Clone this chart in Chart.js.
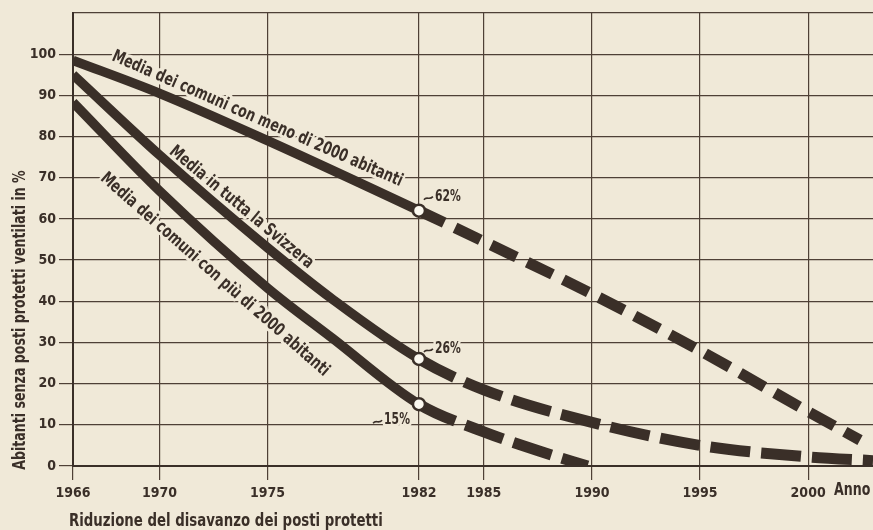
<!DOCTYPE html>
<html>
<head>
<meta charset="utf-8">
<script src="https://cdn.jsdelivr.net/npm/chart.js@4/dist/chart.umd.min.js"></script>
<style>
  html, body { margin: 0; padding: 0; background: #f0e9d8; overflow: hidden; }
  canvas { display: block; }
</style>
</head>
<body>
<canvas id="chart" width="873" height="530"></canvas>
<script>
// x axis ticks (years) and y axis range
const xTicks = [1966, 1970, 1975, 1982, 1985, 1990, 1995, 2000];
const yMax = 110;
const markYear = 1982; // last surveyed year, dashed afterwards

// Media dei comuni con meno di 2000 abitanti
const yearsMeno = [1966, 1970, 1975, 1982, 1985, 1990, 1995, 2000, 2002.4];
const valMeno   = [98.5, 90.5, 79, 62, 54.5, 41.8, 28, 13.2, 6.3];

// Media in tutta la Svizzera
const yearsSvizzera = [1966, 1970, 1975, 1978, 1982, 1985, 1990, 1995, 2000, 2003];
const valSvizzera   = [95, 75.5, 53, 40.5, 26, 18.5, 10.6, 5, 2.2, 1.3];

// Media dei comuni con più di 2000 abitanti
const yearsPiu = [1966, 1970, 1975, 1978, 1982, 1985, 1987.7, 1989.8];
const valPiu   = [88.3, 66.8, 43.2, 31, 15, 8.3, 3.4, 0];

const PAPER = '#f0e9d8';
const INK = '#3a2f28';
const GRID = '#4e4036';
const FONT = "'Liberation Sans Narrow', 'Arial Narrow', 'DejaVu Sans Condensed', sans-serif";
const SX = 0.8; // horizontal squeeze for the condensed lettering

function pts(xs, ys) {
  return xs.map((x, i) => ({ x, y: ys[i] }));
}

function lineDataset(xs, ys, dash) {
  return {
    data: pts(xs, ys),
    borderColor: INK,
    borderWidth: 9.5,
    cubicInterpolationMode: 'monotone',
    segment: {
      borderDash: c => c.p0.parsed.x >= markYear ? dash : undefined,
      borderWidth: c => c.p0.parsed.x >= markYear ? 11 : undefined
    },
    pointRadius: c => (c.raw && c.raw.x === markYear ? 6 : 0),
    pointHoverRadius: 0,
    pointBackgroundColor: '#fbf8ef',
    pointBorderColor: INK,
    pointBorderWidth: 2.5
  };
}

// value on a series at a given year (straight between readings)
function valueAt(xs, ys, yr) {
  for (let i = 0; i < xs.length - 1; i++) {
    if (yr >= xs[i] && yr <= xs[i + 1]) {
      const t = (yr - xs[i]) / (xs[i + 1] - xs[i]);
      return ys[i] + t * (ys[i + 1] - ys[i]);
    }
  }
  return ys[ys.length - 1];
}

const lineLabels = [
  { text: 'Media dei comuni con meno di 2000 abitanti', xs: yearsMeno, ys: valMeno, at: 1967.5, span: 13, off: 14 },
  { text: 'Media in tutta la Svizzera', xs: yearsSvizzera, ys: valSvizzera, at: 1970.2, span: 8, off: 7.5 },
  { text: 'Media dei comuni con più di 2000 abitanti', xs: yearsPiu, ys: valPiu, at: 1968.3, span: 10, off: -35 }
];

const pctLabels = [
  { xs: yearsMeno, ys: valMeno, dx: 16, dy: -14, side: 'right' },
  { xs: yearsSvizzera, ys: valSvizzera, dx: 16, dy: -10, side: 'right' },
  { xs: yearsPiu, ys: valPiu, dx: -9, dy: 16, side: 'left' }
];

function tilde(ctx, x, y) {
  ctx.beginPath();
  ctx.moveTo(x, y + 2);
  ctx.bezierCurveTo(x + 3, y - 2, x + 5, y + 3, x + 9, y - 1);
  ctx.lineWidth = 1.6;
  ctx.strokeStyle = INK;
  ctx.stroke();
}

// squeezed text, optionally rotated; halo = knock-out stroke only
function squeezed(ctx, s, x, y, angle, align, halo) {
  ctx.save();
  ctx.translate(x, y);
  if (angle) ctx.rotate(angle);
  ctx.scale(SX, 1);
  ctx.textAlign = align;
  if (halo) ctx.strokeText(s, 0, 0);
  else ctx.fillText(s, 0, 0);
  ctx.restore();
}

function drawLabels(chart, halo) {
  const { ctx, scales: { x, y } } = chart;
  const px = (xs, ys, yr) => ({ x: x.getPixelForValue(yr), y: y.getPixelForValue(valueAt(xs, ys, yr)) });

  ctx.save();
  ctx.fillStyle = INK;
  ctx.strokeStyle = PAPER;
  ctx.lineWidth = 6;
  ctx.lineJoin = 'round';
  ctx.textBaseline = 'alphabetic';

  ctx.font = 'bold 17.5px ' + FONT;
  lineLabels.forEach(l => {
    const p0 = px(l.xs, l.ys, l.at);
    const p1 = px(l.xs, l.ys, l.at + l.span);
    const a = Math.atan2(p1.y - p0.y, p1.x - p0.x);
    squeezed(ctx, l.text, p0.x + Math.sin(a) * l.off, p0.y - Math.cos(a) * l.off, a, 'left', halo);
  });

  ctx.font = 'bold 15px ' + FONT;
  ctx.textBaseline = 'middle';
  pctLabels.forEach(l => {
    const v = valueAt(l.xs, l.ys, markYear);
    const txt = Math.round(v) + '%';
    const mx = x.getPixelForValue(markYear);
    const my = y.getPixelForValue(v);
    const tx = mx + l.dx, ty = my + l.dy;
    const w = ctx.measureText(txt).width * SX;
    const left = l.side === 'right' ? tx : tx - w;
    squeezed(ctx, txt, left, ty, 0, 'left', halo);
    if (!halo) tilde(ctx, left - 11, ty + 1);
  });
  ctx.restore();
}

const paperPlugin = {
  id: 'paper',
  beforeDraw(chart) {
    const { ctx, width, height } = chart;
    ctx.save();
    ctx.fillStyle = PAPER;
    ctx.fillRect(0, 0, width, height);
    ctx.restore();
  }
};

const labelPlugin = {
  id: 'labels',
  beforeDatasetsDraw(chart) { drawLabels(chart, true); },
  afterDatasetsDraw(chart) { drawLabels(chart, false); },
  afterDraw(chart) {
    const { ctx, chartArea } = chart;
    ctx.save();
    ctx.fillStyle = INK;
    ctx.font = 'bold 17.5px ' + FONT;
    ctx.textBaseline = 'middle';
    squeezed(ctx, 'Abitanti senza posti protetti ventilati in %', 20, 320, -Math.PI / 2, 'center', false);
    squeezed(ctx, 'Anno', chartArea.right - 39, 490, 0, 'left', false);
    ctx.font = 'bold 18.5px ' + FONT;
    squeezed(ctx, 'Riduzione del disavanzo dei posti protetti', 69, 521, 0, 'left', false);
    ctx.restore();
  }
};

new Chart(document.getElementById('chart'), {
  type: 'line',
  data: {
    datasets: [
      lineDataset(yearsMeno, valMeno, [28, 12]),
      lineDataset(yearsSvizzera, valSvizzera, [40, 11]),
      lineDataset(yearsPiu, valPiu, [40, 11])
    ]
  },
  options: {
    responsive: false,
    animation: false,
    events: [],
    layout: { padding: { top: 13, right: 0, left: 0, bottom: 0 } },
    plugins: { legend: { display: false }, tooltip: { enabled: false } },
    scales: {
      x: {
        type: 'linear',
        min: 1966,
        max: 2003,
        afterBuildTicks: s => { s.ticks = xTicks.map(v => ({ value: v })); },
        afterFit: s => { s.height = 64; },
        grid: { color: GRID, lineWidth: 1.2, tickLength: 14, tickColor: GRID },
        border: { color: INK, width: 2 },
        ticks: {
          color: INK,
          padding: 5,
          autoSkip: false,
          maxRotation: 0,
          font: { family: FONT, size: 14, weight: 'bold' },
          callback: v => String(v)
        }
      },
      y: {
        min: 0,
        max: yMax,
        afterFit: s => { s.width = 73; },
        grid: {
          color: GRID,
          lineWidth: 1.2,
          tickLength: 14,
          tickColor: c => (c.tick && c.tick.value >= yMax ? 'rgba(0,0,0,0)' : GRID)
        },
        border: { color: INK, width: 2 },
        ticks: {
          stepSize: 10,
          color: INK,
          padding: 3,
          font: { family: FONT, size: 14, weight: 'bold' },
          callback: v => (v >= yMax ? '' : v)
        }
      }
    }
  },
  plugins: [paperPlugin, labelPlugin]
});
</script>
</body>
</html>
